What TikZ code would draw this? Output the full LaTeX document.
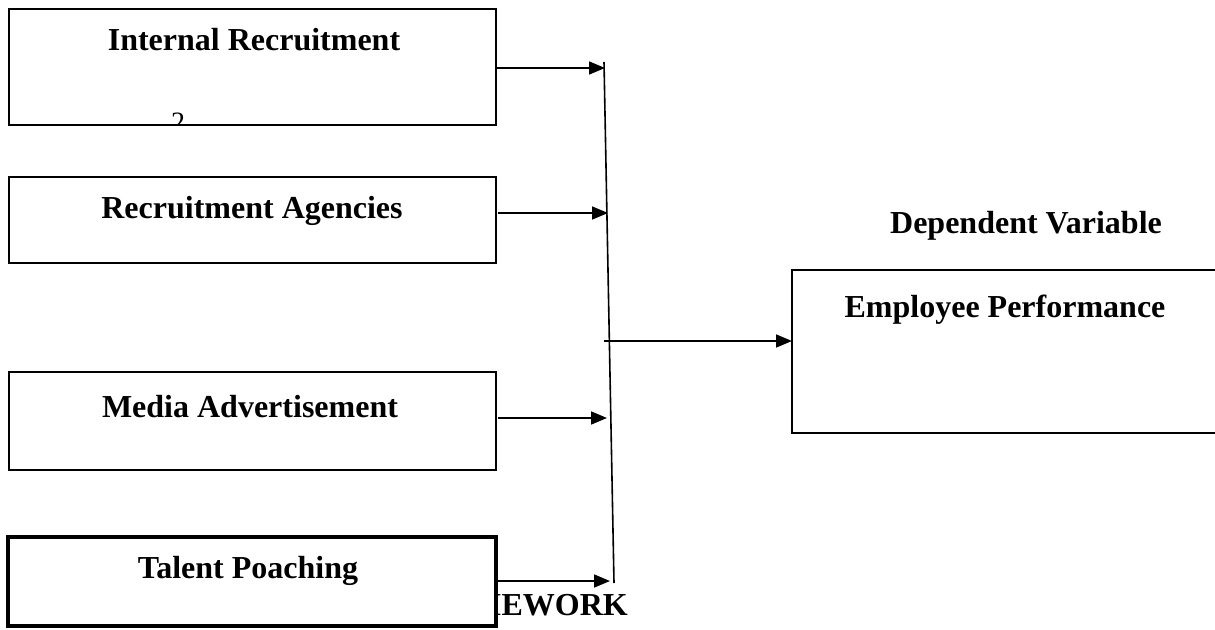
\documentclass[tikz,border=0pt]{standalone}
\usepackage{fontspec}
\setmainfont{Liberation Serif}
\usetikzlibrary{arrows.meta}
\begin{document}
\begin{tikzpicture}[x=1pt,y=-1pt,
  box/.style={draw,line width=1.6pt,fill=white},
  lbl/.style={font=\fontsize{32}{36}\selectfont\bfseries,inner sep=0pt,anchor=base},
  conn/.style={line width=1.6pt,-{Triangle[length=16pt,width=13pt]}}]
\useasboundingbox (0,0) rectangle (1215,629);
% partly hidden caption
\node[lbl,anchor=base west] (cap) at (489,615) {IEWORK};
% boxes
\draw[box] (9,9) rectangle (496,125);
\node[lbl] (t1) at (254,50) {Internal Recruitment};
\begin{scope}
\clip (10,10) rectangle (495,124);
\node[font=\fontsize{28}{32}\selectfont,anchor=north,inner sep=0pt] (g1) at (178,113) {2};
\end{scope}
\draw[box] (9,177) rectangle (496,263);
\node[lbl] (t2) at (252,218) {Recruitment Agencies};
\draw[box] (9,372) rectangle (496,470);
\node[lbl] (t3) at (250,417) {Media Advertisement};
\draw[box,line width=4pt] (8,537) rectangle (496,626);
\node[lbl] (t4) at (248,578) {Talent Poaching};
% dependent
\node[lbl] (dv) at (1026,233) {Dependent Variable};
\draw[line width=1.6pt] (1216,270) -- (792,270) -- (792,433) -- (1216,433);
\coordinate (ep) at (792,341);
\node[lbl] (t5) at (1005,317) {Employee Performance};
% bus line
\coordinate (b1) at (604,62);
\coordinate (b2) at (614,583);
\draw[line width=1.6pt] (b1) -- (b2);
\coordinate (a1s) at (496,68); \coordinate (a1e) at (605,68);
\coordinate (a2s) at (498,213); \coordinate (a2e) at (608,213);
\coordinate (a3s) at (498,418); \coordinate (a3e) at (607,418);
\coordinate (a4s) at (498,581); \coordinate (a4e) at (610,581);
\coordinate (m) at (604,341);
\draw[conn] (a1s) -- (a1e);
\draw[conn] (a2s) -- (a2e);
\draw[conn] (a3s) -- (a3e);
\draw[conn] (a4s) -- (a4e);
\draw[conn] (m) -- (ep);
\end{tikzpicture}
\end{document}
